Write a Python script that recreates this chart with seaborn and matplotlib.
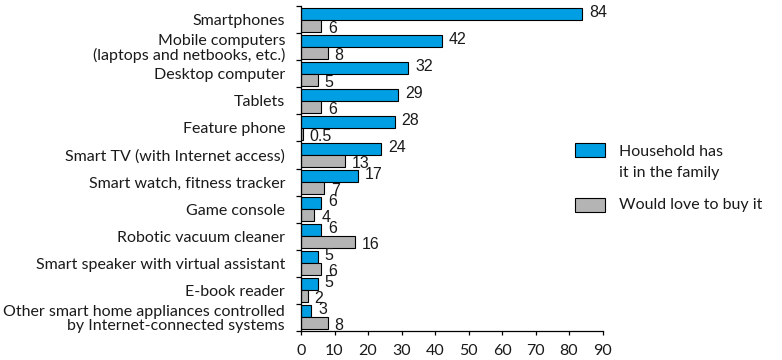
import matplotlib
matplotlib.use("Agg")
import matplotlib.pyplot as plt
from matplotlib.patches import Rectangle
import numpy as np
import pandas as pd
import seaborn as sns

# Device categories (top to bottom)
categories = [
    "Smartphones",
    "Mobile computers\n(laptops and netbooks, etc.)",
    "Desktop computer",
    "Tablets",
    "Feature phone",
    "Smart TV (with Internet access)",
    "Smart watch, fitness tracker",
    "Game console",
    "Robotic vacuum cleaner",
    "Smart speaker with virtual assistant",
    "E-book reader",
    "Other smart home appliances controlled\nby Internet-connected systems",
]
has_it = [84, 42, 32, 29, 28, 24, 17, 6, 6, 5, 5, 3]
want_it = [6, 8, 5, 6, 0.5, 13, 7, 4, 16, 6, 2, 8]
series_names = ["Household has\nit in the family", "Would love to buy it"]
xticks = [0, 10, 20, 30, 40, 50, 60, 70, 80, 90]

BLUE = "#009fe3"
GRAY = "#b4b4b4"
TEXT = "#1a1a1a"
LABEL_FONT = "Lato"
VALUE_FONT = ["Liberation Sans Narrow", "Liberation Sans"]

df = pd.DataFrame({
    "category": categories * 2,
    "value": has_it + want_it,
    "series": [series_names[0]] * len(categories) + [series_names[1]] * len(categories),
})

sns.set_theme(style="white")
plt.rcParams["font.family"] = [LABEL_FONT, "DejaVu Sans"]

fig = plt.figure(figsize=(7.82, 3.60), dpi=100)
ax = fig.add_axes([301 / 782, 1 - 330.7 / 360, 301.5 / 782, 324.4 / 360])

sns.barplot(
    data=df, y="category", x="value", hue="series", order=categories,
    hue_order=series_names, palette=[BLUE, GRAY], saturation=1, orient="h",
    width=0.9, gap=0, edgecolor="black", linewidth=0.8, legend=False, ax=ax,
)

# value labels next to each bar (upper series nudged up, lower nudged down)
for container, vals, dy in zip(ax.containers, [has_it, want_it], [0.8, -1.6]):
    for bar, v in zip(container, vals):
        y = bar.get_y() + bar.get_height() / 2
        ax.annotate(f"{v:g}", xy=(bar.get_width(), y), xytext=(5, dy),
                    textcoords="offset points", ha="left", va="center",
                    fontsize=11.5, family=VALUE_FONT, color=TEXT,
                    annotation_clip=False)

ax.set_xlim(0, 90)
ax.set_ylim(11.5, -0.5)
ax.set_xticks(xticks)
ax.set_xticklabels([str(t) for t in xticks], fontsize=11.5, color=TEXT)
ax.set_yticks(range(len(categories)))
ax.set_yticklabels(categories, fontsize=11.5, color=TEXT, linespacing=1.0)
ax.set_yticks(np.arange(-0.5, len(categories), 1.0), minor=True)
ax.tick_params(axis="y", which="major", length=0, pad=11.5)
ax.tick_params(axis="y", which="minor", length=3.8, width=0.9, color="black", direction="out", left=True)
ax.tick_params(axis="x", which="major", length=3.2, width=0.9, color="black", direction="out", bottom=True, pad=6.5)
ax.set_xlabel("")
ax.set_ylabel("")

for side in ["top", "right"]:
    ax.spines[side].set_visible(False)
for side in ["left", "bottom"]:
    ax.spines[side].set_visible(True)
    ax.spines[side].set_color("black")
    ax.spines[side].set_linewidth(0.9)

# legend drawn in figure pixels
W, H = 782, 360
def fig_rect(x0, y0, w, h, color):
    fig.patches.append(Rectangle((x0 / W, 1 - (y0 + h) / H), w / W, h / H,
                                 transform=fig.transFigure, facecolor=color,
                                 edgecolor="black", linewidth=0.8))

fig_rect(575, 142.7, 30, 14, BLUE)
fig_rect(575, 198, 30, 14, GRAY)
fig.text(619 / W, 1 - 151.7 / H, "Household has", fontsize=11.5, va="center", ha="left", color=TEXT)
fig.text(619 / W, 1 - 173 / H, "it in the family", fontsize=11.5, va="center", ha="left", color=TEXT)
fig.text(619 / W, 1 - 205 / H, "Would love to buy it", fontsize=11.5, va="center", ha="left", color=TEXT)

fig.savefig("out.png", dpi=100, facecolor="white")
